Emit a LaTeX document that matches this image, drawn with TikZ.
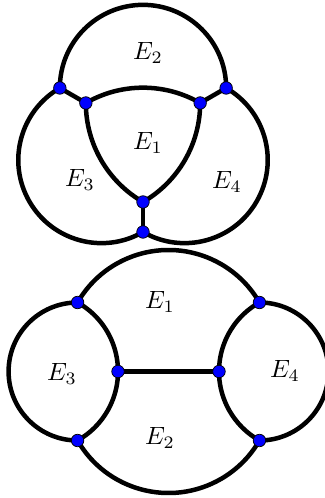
\documentclass[tikz,border=0pt]{standalone}
\usepackage{tikz}
\usetikzlibrary{positioning}
\tikzstyle{vertex} = [circle, 
fill=blue, 
draw=black,
line width=0.3pt,
inner sep=0pt,
minimum size=5pt]
\tikzstyle{edge} = [line width=1.8pt,
line join=round]
\tikzstyle{face} = [inner sep=0pt]

\begin{document}
\begin{tikzpicture}[x=0.4pt, y=0.4pt]
    \useasboundingbox (0,0) rectangle (325,498);
    
    % upper drawing
    \begin{scope}[shift={(143,362)}]
    \coordinate (a) at (150:96);
    \coordinate (d) at (30:96);
    \coordinate (g) at (270:96);
    \coordinate (b) at (150:66);
    \coordinate (c) at (30:66);
    \coordinate (f) at (270:66);
    
    % outer circles
    \draw[edge] (a) arc[start angle=180, end angle=0, radius=83.14];
    \draw[edge] (a) arc[start angle=120, end angle=300, radius=83.14];
    \draw[edge] (g) arc[start angle=240, end angle=420, radius=83.14];
    
    % inner triangle
    \draw[edge] (b) arc[start angle=120, end angle=60, radius=114.32]
        arc[start angle=0, end angle=-60, radius=114.32]
        arc[start angle=240, end angle=180, radius=114.32] -- cycle;
    
    \draw[edge] (a) -- (b);
    \draw[edge] (d) -- (c);
    \draw[edge] (g) -- (f);
    
    \foreach \v in {a,b,c,d,f,g}
        \node[vertex] at (\v) {};
    
    \node (topE2) [face] at (5,83) {$E_2$};
    \node (topE1) [face] at (5,-7) {$E_1$};
    \node (topE3) [face] at (-63,-44) {$E_3$};
    \node (topE4) [face] at (84,-46) {$E_4$};
    \end{scope}
    
    % lower drawing
    \begin{scope}[shift={(168.5,126.5)}]
    \coordinate (p1) at (-90.93,69);
    \coordinate (p2) at (90.93,69);
    \coordinate (p3) at (-50.5,0);
    \coordinate (p4) at (50.5,0);
    \coordinate (p5) at (-90.93,-69);
    \coordinate (p6) at (90.93,-69);
    
    \draw[edge] (p1) arc[start angle=150, end angle=30, radius=105];
    \draw[edge] (p5) arc[start angle=210, end angle=330, radius=105];
    \draw[edge] (p1) arc[start angle=90, end angle=270, radius=69];
    \draw[edge] (p6) arc[start angle=-90, end angle=90, radius=69];
    
    \draw[edge] (p1) arc[start angle=60.73, end angle=-60.73, radius=79.1];
    \draw[edge] (p2) arc[start angle=119.27, end angle=240.73, radius=79.1];
    \draw[edge] (p3) -- (p4);
    
    \foreach \v in {p1,p2,p3,p4,p5,p6}
        \node[vertex] at (\v) {};
    
    \node (botE1) [face] at (-8.5,69.5) {$E_1$};
    \node (botE2) [face] at (-8.5,-66.5) {$E_2$};
    \node (botE3) [face] at (-106.5,-2.5) {$E_3$};
    \node (botE4) [face] at (116.5,0.5) {$E_4$};
    \end{scope}
    
\end{tikzpicture}
\end{document}
